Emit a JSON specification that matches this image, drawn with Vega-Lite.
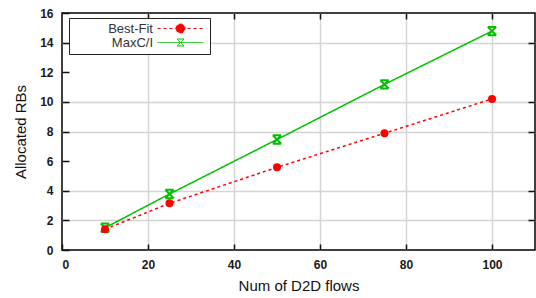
{
  "$schema": "https://vega.github.io/schema/vega-lite/v6.json",
  "width": 473,
  "height": 237,
  "autosize": {"type": "none"},
  "padding": {"left": 62, "top": 13, "right": 1, "bottom": 48},
  "config": {
    "font": "Liberation Sans",
    "view": {"stroke": "black", "strokeWidth": 1.5},
    "axis": {
      "labelFont": "Liberation Sans",
      "labelFontSize": 12,
      "labelFontWeight": "bold",
      "labelColor": "#1a1a1a",
      "titleFont": "Liberation Sans",
      "titleFontSize": 15,
      "titleFontWeight": "normal",
      "titleColor": "#111",
      "tickColor": "#111",
      "tickWidth": 1.5,
      "gridColor": "#d4d4d4",
      "gridWidth": 1.5,
      "gridOpacity": 1,
      "domain": false
    }
  },
  "data": {
    "values": [
      {"n": 10, "series": "Best-Fit", "rbs": 1.4},
      {"n": 25, "series": "Best-Fit", "rbs": 3.15},
      {"n": 50, "series": "Best-Fit", "rbs": 5.58},
      {"n": 75, "series": "Best-Fit", "rbs": 7.88},
      {"n": 100, "series": "Best-Fit", "rbs": 10.2},
      {"n": 10, "series": "MaxC/I", "rbs": 1.5},
      {"n": 25, "series": "MaxC/I", "rbs": 3.78},
      {"n": 50, "series": "MaxC/I", "rbs": 7.46},
      {"n": 75, "series": "MaxC/I", "rbs": 11.18},
      {"n": 100, "series": "MaxC/I", "rbs": 14.78}
    ]
  },
  "resolve": {"scale": {"x": "shared", "y": "shared"}, "axis": {"x": "independent", "y": "independent"}},
  "layer": [
    {
      "mark": {"type": "line", "strokeWidth": 1.5},
      "encoding": {
        "x": {
          "field": "n", "type": "quantitative",
          "scale": {"domain": [0, 110], "nice": false},
          "axis": {"orient": "bottom", "title": "Num of D2D flows", "values": [0, 20, 40, 60, 80, 100], "grid": false, "tickSize": -6, "labelPadding": 15, "titlePadding": 8}
        },
        "y": {
          "field": "rbs", "type": "quantitative",
          "scale": {"domain": [0, 16], "nice": false},
          "axis": {"orient": "left", "title": "Allocated RBs", "values": [0, 2, 4, 6, 8, 10, 12, 14, 16], "grid": false, "tickSize": -7, "labelPadding": 16, "titlePadding": 11}
        },
        "color": {
          "field": "series", "type": "nominal",
          "scale": {"domain": ["Best-Fit", "MaxC/I"], "range": ["#ff0000", "#00c000"]},
          "legend": {
            "title": null,
            "orient": "none",
            "legendX": 7,
            "legendY": 5,
            "padding": 4,
            "strokeColor": "#222",
            "fillColor": "white",
            "labelFont": "Liberation Sans",
            "labelFontSize": 13,
            "labelColor": "#333",
            "labelAlign": "right",
            "labelOffset": 67,
            "symbolSize": 4,
            "rowPadding": 0,
            "encode": {
              "symbols": {
                "update": {
                  "shape": {"signal": "datum.value === 'Best-Fit' ? 'M78,0L124,0M96.5,0A4.5,4.5,0,1,1,105.5,0A4.5,4.5,0,1,1,96.5,0Z' : 'M78,0L124,0M97.5,-3.5L104.5,3.5M97.5,3.5L104.5,-3.5M97.5,-3.5L104.5,-3.5M97.5,3.5L104.5,3.5'"},
                  "fill": {"signal": "datum.value === 'Best-Fit' ? '#ff0000' : 'transparent'"},
                  "strokeWidth": {"value": 1}
                }
              }
            }
          }
        },
        "strokeDash": {
          "field": "series", "type": "nominal",
          "scale": {"domain": ["Best-Fit", "MaxC/I"], "range": [[3, 3], [1, 0]]},
          "legend": null
        }
      }
    },
    {
      "transform": [{"filter": "datum.series === 'MaxC/I'"}],
      "mark": {"type": "point", "shape": "M-1,-1L1,1M-1,1L1,-1M-1,-1L1,-1M-1,1L1,1", "filled": false, "size": 70, "strokeWidth": 2, "color": "#00c000", "opacity": 1},
      "encoding": {
        "x": {
          "field": "n", "type": "quantitative",
          "axis": {"orient": "top", "title": null, "labels": false, "values": [20, 40, 60, 80, 100], "grid": true, "tickSize": -6}
        },
        "y": {
          "field": "rbs", "type": "quantitative",
          "axis": {"orient": "right", "title": null, "labels": false, "values": [2, 4, 8, 10, 14], "grid": true, "tickSize": -7}
        }
      }
    },
    {
      "transform": [{"filter": "datum.series === 'Best-Fit'"}],
      "mark": {"type": "point", "shape": "circle", "filled": true, "size": 64, "color": "#ff0000", "opacity": 1},
      "encoding": {
        "x": {"field": "n", "type": "quantitative", "axis": null},
        "y": {"field": "rbs", "type": "quantitative", "axis": null}
      }
    }
  ]
}
